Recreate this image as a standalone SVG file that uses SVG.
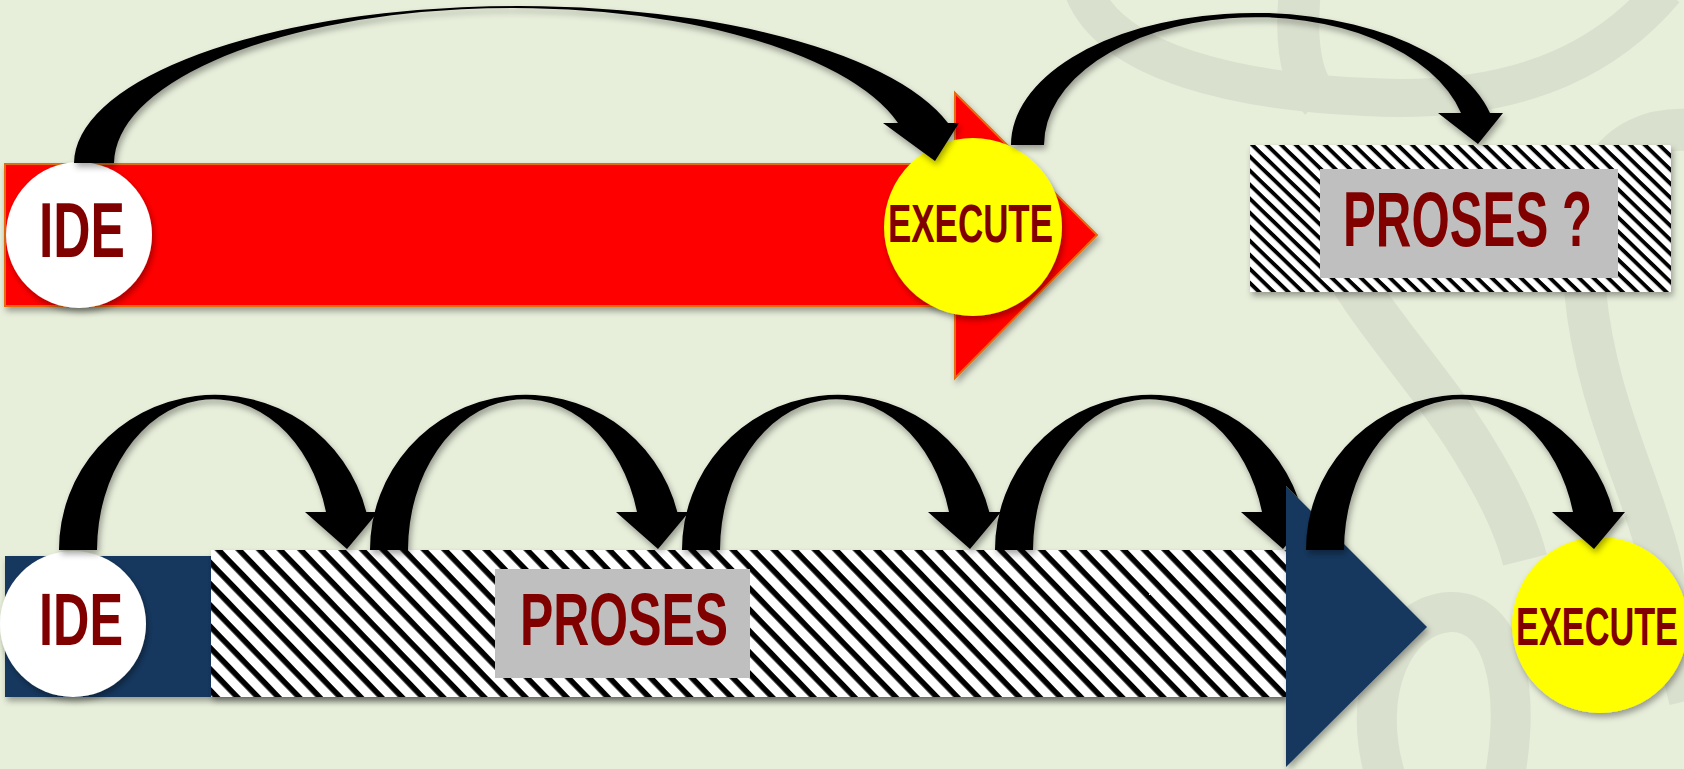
<svg xmlns="http://www.w3.org/2000/svg" xmlns:xlink="http://www.w3.org/1999/xlink" width="1684" height="769" viewBox="0 0 1684 769">
  <style>
    .lbl { font-family: "Liberation Sans", Arial, sans-serif; font-weight: bold; fill: #800000; }
    .wm { fill: none; stroke: #DAE0CE; stroke-linecap: butt; }
    .arc { fill: #000; }
  </style>
  <defs>
    <filter id="sh" x="-15%" y="-15%" width="140%" height="150%">
      <feDropShadow dx="2" dy="4" stdDeviation="3" flood-color="#000" flood-opacity="0.35"/>
    </filter>
    <pattern id="stripesTop" patternUnits="userSpaceOnUse" width="20" height="10.1" patternTransform="rotate(44)">
      <rect width="20" height="10.1" fill="#fff"/>
      <rect width="20" height="3.9" fill="#000"/>
    </pattern>
    <pattern id="stripesBot" patternUnits="userSpaceOnUse" width="20" height="14.8" patternTransform="rotate(46)">
      <rect width="20" height="14.8" fill="#fff"/>
      <rect width="20" height="5.6" fill="#000"/>
    </pattern>
    <path id="bottomArc" d="M 0 550 A 156 155 0 0 1 307.3 512 L 319 512 L 288 549 L 246 512 L 267 512 A 116.4 151 0 0 0 38 550 Z"/>
    <clipPath id="clipArc4">
      <path clip-rule="evenodd" d="M 900 370 H 1420 V 769 H 900 Z M 1286 486 L 1427 627 L 1286 767 Z"/>
    </clipPath>
  </defs>

  <g id="background">
    <rect x="0" y="0" width="1684" height="769" fill="#E7EEDA"/>
    <path class="wm" stroke-width="38" d="M 1083 -10 C 1110 60, 1230 95, 1400 98 C 1530 98, 1610 55, 1665 -10"/>
    <path class="wm" stroke-width="42" d="M 1300 -10 C 1295 40, 1300 80, 1320 100"/>
    <path class="wm" stroke-width="45" d="M 1340 260 C 1380 330, 1440 390, 1480 460 C 1510 510, 1520 540, 1525 560"/>
    <path class="wm" stroke-width="42" d="M 1690 130 C 1610 125, 1575 190, 1585 290 C 1595 400, 1640 480, 1660 560 C 1670 620, 1680 660, 1690 700"/>
    <path class="wm" stroke-width="40" d="M 1385 775 C 1360 690, 1395 615, 1450 612 C 1505 610, 1520 690, 1505 775"/>
  </g>

  <g id="top-arrow" filter="url(#sh)">
    <polygon points="5,164 955,164 955,93 1097,235 955,378 955,306 5,306" fill="#FF0000" stroke="#E36C09" stroke-width="2"/>
  </g>

  <g id="node-ide-top">
    <circle cx="79" cy="235" r="73" fill="#FFFFFF" filter="url(#sh)"/>
    <text class="lbl" x="39" y="257" font-size="77" textLength="86" lengthAdjust="spacingAndGlyphs">IDE</text>
  </g>

  <g id="node-execute-top">
    <circle cx="973" cy="227" r="89" fill="#FFFF00" filter="url(#sh)"/>
    <text class="lbl" x="888" y="242" font-size="54" textLength="165" lengthAdjust="spacingAndGlyphs">EXECUTE</text>
  </g>

  <g id="node-proses-q">
    <rect x="1250" y="145" width="421" height="147" fill="url(#stripesTop)" filter="url(#sh)"/>
    <rect x="1320" y="169" width="298" height="109" fill="#BFBFBF"/>
    <text class="lbl" x="1343" y="246" font-size="78" textLength="249" lengthAdjust="spacingAndGlyphs">PROSES ?</text>
  </g>

  <g id="bottom-arrow">
    <rect x="5" y="556" width="1281" height="141" fill="#17375E" filter="url(#sh)"/>
    <rect x="211" y="550" width="1075" height="147" fill="url(#stripesBot)" filter="url(#sh)"/>
    <polygon points="1286,486 1427,627 1286,767" fill="#17375E" filter="url(#sh)"/>
  </g>

  <g id="node-proses">
    <rect x="495" y="569" width="255" height="109" fill="#BFBFBF"/>
    <text class="lbl" x="520" y="645" font-size="75" textLength="208" lengthAdjust="spacingAndGlyphs">PROSES</text>
  </g>

  <g id="node-ide-bottom">
    <circle cx="73" cy="624" r="73" fill="#FFFFFF" filter="url(#sh)"/>
    <text class="lbl" x="39" y="645" font-size="75" textLength="84" lengthAdjust="spacingAndGlyphs">IDE</text>
  </g>

  <g id="node-execute-bottom">
    <circle cx="1600" cy="625" r="88" fill="#FFFF00" filter="url(#sh)"/>
    <text class="lbl" x="1516" y="645" font-size="53" textLength="162" lengthAdjust="spacingAndGlyphs">EXECUTE</text>
  </g>

  <g id="connectors">
    <path class="arc" filter="url(#sh)" d="M 74 163 A 444.6 158 0 0 1 948 123 L 959 123 L 935 161 L 883 123 L 898 123 A 399 156 0 0 0 114 163 Z"/>
    <path class="arc" filter="url(#sh)" d="M 1011 145 A 243.1 132 0 0 1 1490 113 L 1503 113 L 1478 144 L 1438 113 L 1461 113 A 211.9 128 0 0 0 1044 145 Z"/>
    <use xlink:href="#bottomArc" class="arc" x="59" y="0" filter="url(#sh)"/>
    <use xlink:href="#bottomArc" class="arc" x="370" y="0" filter="url(#sh)"/>
    <use xlink:href="#bottomArc" class="arc" x="682" y="0" filter="url(#sh)"/>
    <g clip-path="url(#clipArc4)">
      <use xlink:href="#bottomArc" class="arc" x="995" y="0" filter="url(#sh)"/>
    </g>
    <use xlink:href="#bottomArc" class="arc" x="1306" y="0" filter="url(#sh)"/>
  </g>
</svg>
